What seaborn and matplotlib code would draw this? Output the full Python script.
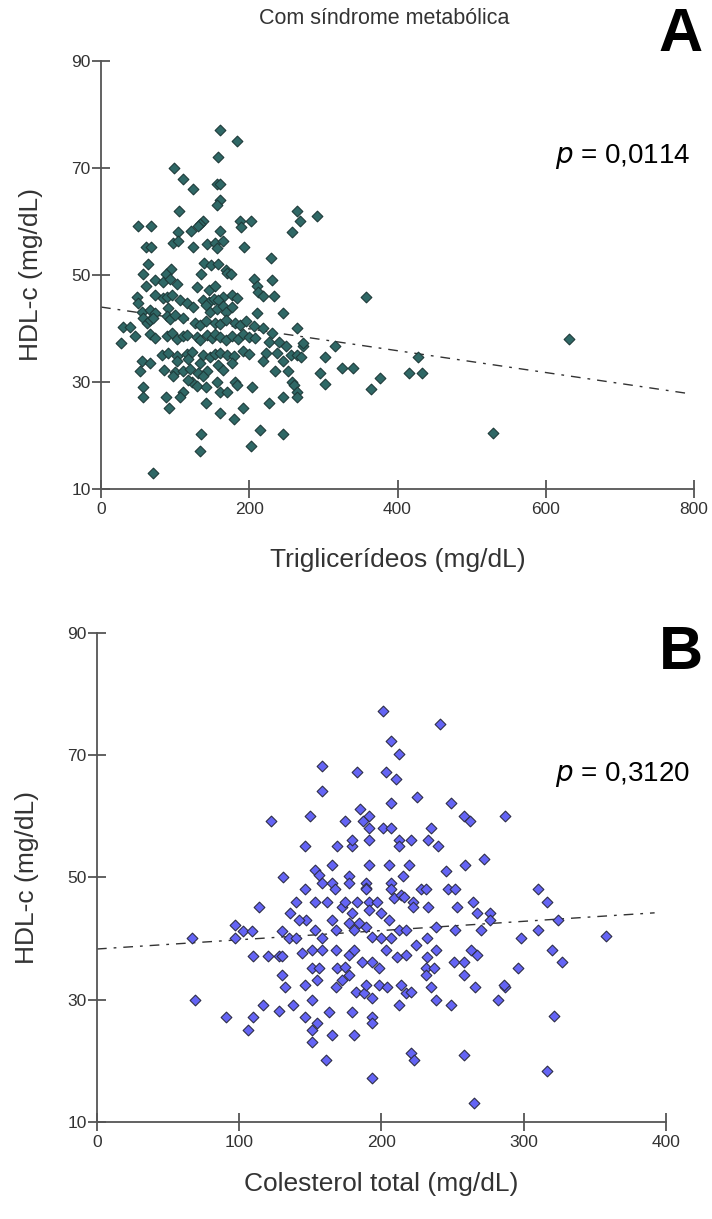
import numpy as np
import pandas as pd
import matplotlib
matplotlib.use("Agg")
import matplotlib.pyplot as plt
import seaborn as sns

# ---- Panel A: triglicerídeos vs HDL-c ----
tg = [160, 184, 158, 99, 110, 156, 160, 124, 160, 156, 105, 264, 292, 268, 257,
      138, 134, 131, 188, 189, 203, 50, 68, 104, 122, 160,
      97, 104, 143, 154, 164, 61, 68, 124, 156, 193, 229,
      64, 139, 149, 158, 95, 168, 57, 87, 135, 170, 175, 206, 231,
      73, 84, 93, 211, 60, 103, 130, 145, 154,
      49, 73, 84, 89, 96, 107, 165, 177, 184, 138, 145, 152, 158,
      50, 55, 66, 73, 91, 116, 124, 141, 147, 157, 164, 168, 177,
      57, 62, 66, 70, 89, 93, 100, 110,
      127, 134, 141, 154, 161, 168, 181, 188, 195, 206, 30, 39,
      46, 66, 73, 89, 96, 103, 111, 116,
      130, 134, 143, 150, 154, 161, 168, 177, 185, 192, 199, 208, 27,
      82, 91, 103, 116, 123, 137, 147, 154, 161, 170, 179, 192, 199, 222, 238, 256, 265,
      55, 66, 103, 118, 134, 158, 177, 219, 245,
      53, 85, 100, 110, 120, 131, 143, 164, 235, 252, 97, 137,
      123, 118, 157, 181, 184, 258, 260, 57, 130, 141, 204,
      110, 161, 170, 265, 57, 88, 106, 246, 265, 141, 226, 92, 192,
      161, 180, 214, 245, 135, 203, 133, 70,
      357, 632, 529, 273, 315, 302, 270, 295, 302, 325, 340, 376, 364, 428, 415, 433,
      210, 246, 219, 231, 265, 272, 226, 240, 250, 212, 219, 233]
hdl_a = [77.1, 75, 72, 70, 68, 67, 67, 66, 64, 63, 62, 62, 61, 60, 58,
         60, 59.5, 59.2, 60.1, 59, 60, 59.2, 59.2, 58, 58.2, 58.2,
         56, 56.4, 55.8, 56, 56.3, 55.2, 55.2, 55.2, 55, 55.2, 53.2,
         52, 52.3, 51.8, 52, 51.1, 51, 50.2, 50.2, 50.2, 50.4, 50.2, 49.3, 49.1,
         49, 48.6, 49.2, 47.9, 48, 48.3, 47.7, 47.2, 48,
         45.9, 46.2, 45.6, 45.9, 46.3, 45.3, 45.9, 46.2, 45.6, 45.3, 45.0, 45.5, 45.3,
         44.8, 43, 43.4, 42.8, 43.8, 44.8, 44, 44.3, 43, 43.7, 44.2, 43, 44,
         42, 41, 41.6, 42, 42.3, 41.8, 42.5, 42,
         41.1, 40.7, 41.4, 41.1, 40.8, 41.5, 41.1, 40.6, 41.3, 40.5, 40.3, 40.3,
         38.5, 38.9, 38.2, 38.5, 39.1, 38.0, 38.5, 38.8,
         38.4, 37.9, 38.8, 38.2, 39.0, 38.4, 37.8, 38.6, 38.1, 38.9, 38.4, 38.2, 37.3,
         35, 35.4, 34.8, 35.2, 35.6, 35, 34.7, 35.2, 35.5, 35, 34.8, 35.8, 35.3, 35.5, 35.5, 35, 35,
         34, 33.6, 34, 34.2, 33.5, 33.2, 33.5, 34, 34,
         32, 32.3, 31.8, 32, 32.4, 31.7, 32, 32.2, 32, 32, 31.1, 31.1,
         30, 30.4, 30, 30, 29.5, 30, 29.5, 29, 29.3, 29, 29,
         28.1, 28.1, 28.1, 28.1, 27.2, 27.2, 27.2, 27.2, 27.2, 26.1, 26.1, 25.1, 25.1,
         24.2, 23.1, 21, 20.3, 20.3, 18, 17.1, 13,
         45.9, 38, 20.5, 36.7, 36.7, 34.7, 34.7, 31.7, 29.6, 32.6, 32.6, 30.7, 28.7, 34.7, 31.7, 31.7,
         42.9, 42.9, 40.1, 39.2, 40.1, 37.3, 37.5, 37.5, 36.8, 46.8, 46, 46]

# ---- Panel B: colesterol total vs HDL-c ----
ct = [201, 241, 207, 212, 158, 183, 203, 210, 158, 225, 207, 249, 185, 150, 174, 187, 191, 191, 201, 207,
      235, 258, 262, 287, 146,
      169, 179, 179, 191, 212, 212, 221, 233, 240,
      165, 191, 205, 219, 245, 259, 272,
      153, 156, 158, 165, 177, 177, 189, 189, 207, 215,
      146, 153, 162, 167, 172, 174, 179, 183, 189, 191, 191, 197, 200, 207, 209, 214, 216, 222, 222, 228,
      231, 233, 247, 252, 253, 264, 267, 276, 276, 310, 316, 324,
      147, 153, 158, 165, 168, 177, 181, 184, 189, 193, 200, 205, 207, 212, 217, 232, 238, 252, 270, 298, 310,
      144, 151, 158, 168, 177, 181, 186, 193, 198, 203, 211, 217, 224, 232, 238, 251, 258, 263, 267, 296,
      320, 327, 151, 156, 169, 174, 231, 237,
      146, 151, 155, 168, 172, 177, 182, 188, 189, 193, 198, 204, 212, 214, 217, 221, 231, 235, 238, 249,
      258, 266, 282, 287,
      146, 151, 161, 165, 181, 193, 193, 221, 223, 258, 193, 179, 163, 265, 316,
      358, 321, 286,
      67, 69, 91, 106, 110, 117, 128, 138, 114, 97, 103, 109, 97, 131, 110, 120, 128, 130, 130, 135, 140,
      130, 132, 136, 142, 140, 155, 151, 122]
hdl_b = [77.2, 75.1, 72.3, 70.2, 68.2, 67.3, 67.3, 66.1, 64.2, 63.2, 62.2, 62.2, 61.2, 60, 59.2, 59.2, 60, 58.1, 58.1, 58.1,
         58.1, 60, 59.2, 60, 55.2,
         55.2, 55.2, 56.1, 56.1, 56.1, 55.2, 56.1, 56.1, 55.2,
         52, 52, 52, 52, 51, 52, 53,
         51.2, 50.4, 49.1, 49.1, 50.2, 49.1, 49.1, 48.3, 49.1, 50.2,
         48.1, 46.0, 46.0, 48.1, 45.2, 46.0, 44.2, 46.0, 48.1, 46.0, 44.7, 46.0, 44.2, 48.1, 46.6, 47.1, 46.8, 46.0, 45.2, 48.1,
         48.1, 45.2, 48.1, 48.1, 45.2, 46.0, 44.2, 44.2, 43.0, 48.1, 46.0, 43.0,
         43.0, 41.4, 40.1, 43.0, 41.4, 42.6, 41.4, 42.6, 41.9, 40.3, 40.1, 43.0, 40.1, 41.4, 41.4, 40.1, 41.9, 41.4, 41.4, 40.1, 41.4,
         37.6, 38.1, 38.1, 38.1, 37.3, 38.1, 36.2, 36.2, 35.2, 38.1, 37.0, 37.3, 39.0, 37.0, 38.1, 36.2, 36.2, 38.1, 37.3, 35.2,
         38.1, 36.2, 35.2, 35.2, 35.2, 35.4, 35.2, 35.2,
         32.4, 30.0, 33.2, 32.1, 33.2, 34.0, 31.3, 31.1, 32.4, 30.3, 32.4, 32.1, 29.1, 32.4, 31.1, 31.3, 34.0, 32.1, 30.0, 29.1,
         34.0, 32.1, 30.0, 32.1,
         27.2, 25.1, 20.1, 24.2, 24.2, 27.2, 26.2, 21.3, 20.1, 21.0, 17.2, 28.0, 28.0, 13.1, 18.3,
         40.4, 27.3, 32.4,
         40.1, 30, 27.2, 25.1, 27.2, 29.1, 28.2, 29.1, 45.2, 42.2, 41.2, 41.2, 40.1, 50.1, 37.2, 37.2, 37.2, 37.2, 41.2, 40.1, 40.1,
         34, 32.1, 44.2, 43, 46, 26.2, 23.1, 59.2]

# fitted regression lines (intercept, slope, x range)
fit_a = (44.0, -0.0204, 0, 792)
fit_b = (38.3, 0.0151, 0, 392)

p_text = ["0,0114", "0,3120"]
panel_letters = ["A", "B"]

df_a = pd.DataFrame({"tg": tg, "hdl": hdl_a})
df_b = pd.DataFrame({"ct": ct, "hdl": hdl_b})

sns.set_theme(style="white")
plt.rcParams["font.family"] = ["Liberation Sans", "DejaVu Sans"]

fig = plt.figure(figsize=(7.12, 12.19), dpi=100)
ax1 = fig.add_axes([0.1419, 0.5989, 0.8328, 0.3511])
ax2 = fig.add_axes([0.1362, 0.0796, 0.7992, 0.4011])

panels = [
    (ax1, df_a, "tg", "#2f6866", "#1f3b3a", fit_a, (0, 800), [0, 200, 400, 600, 800],
     "Triglicerídeos (mg/dL)", 0.872, 22),
    (ax2, df_b, "ct", "#6464f5", "#2e2e48", fit_b, (0, 400), [0, 100, 200, 300, 400],
     "Colesterol total (mg/dL)", 0.365, 16),
]

for i, (ax, df, xcol, fc, ec, fit, xlim, xticks, xlabel, py, lpad) in enumerate(panels):
    sns.scatterplot(data=df, x=xcol, y="hdl", ax=ax, marker="D", s=30,
                    color=fc, edgecolor=ec, linewidth=0.8, zorder=3)
    b0, b1, x0, x1 = fit
    xs = np.array([x0, x1])
    ax.plot(xs, b0 + b1 * xs, color="#333333", lw=1.0,
            linestyle=(0, (7, 5, 2, 5)), zorder=2)
    ax.set_xlim(*xlim)
    ax.set_ylim(10, 90)
    ax.set_xticks(xticks)
    ax.set_yticks([10, 30, 50, 70, 90])
    sns.despine(ax=ax)
    for side in ["left", "bottom"]:
        ax.spines[side].set_color("#555555")
        ax.spines[side].set_linewidth(1.3)
    ax.tick_params(axis="both", which="major", bottom=True, left=True,
                   direction="inout", length=13, width=1.3,
                   color="#555555", labelsize=12.5, labelcolor="#333333", pad=1)
    ax.tick_params(axis="x", pad=3)
    ax.set_xlabel(xlabel, fontsize=19, color="#333333", labelpad=lpad)
    ax.set_ylabel("HDL-c (mg/dL)", fontsize=19, color="#333333", labelpad=20)
    fig.text(0.969, py, r"$\it{p}$ = " + p_text[i], fontsize=20,
             ha="right", va="center", color="black")
    ax.set_facecolor("white")

fig.text(0.54, 0.985, "Com síndrome metabólica", ha="center", va="center",
         fontsize=15.5, color="#333333")
fig.text(0.987, 0.971, panel_letters[0], ha="right", va="center", fontsize=44,
         fontweight="bold", color="black")
fig.text(0.987, 0.4643, panel_letters[1], ha="right", va="center", fontsize=44,
         fontweight="bold", color="black")

fig.savefig("out.png", dpi=100, facecolor="white")
